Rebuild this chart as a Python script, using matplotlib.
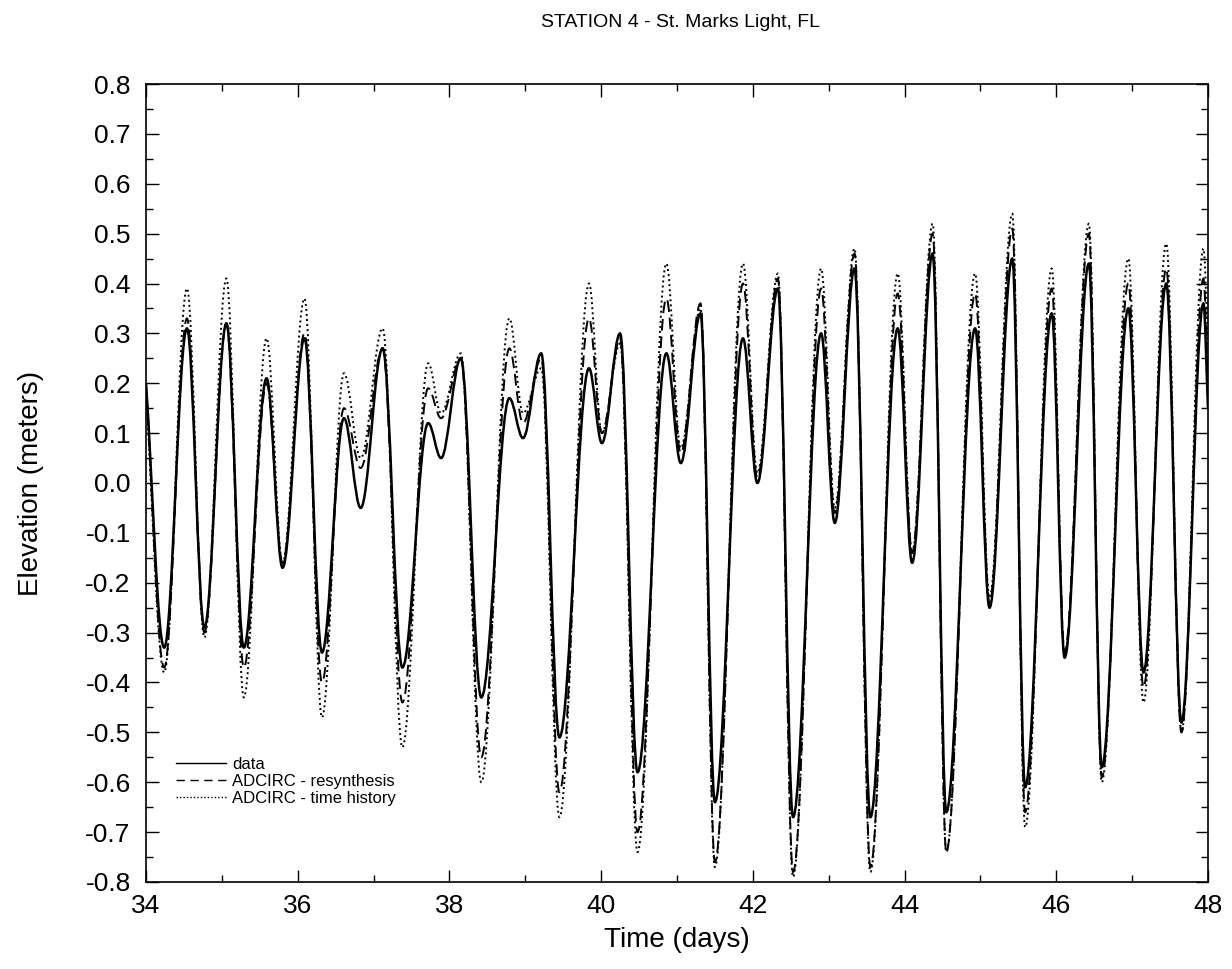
import matplotlib
matplotlib.use("Agg")
import matplotlib.pyplot as plt
from matplotlib.path import Path
from matplotlib.patches import PathPatch
from matplotlib.lines import Line2D
from matplotlib.ticker import MultipleLocator, FormatStrFormatter

plt.rcParams['font.family'] = ['Liberation Sans', 'DejaVu Sans']
plt.rcParams['axes.unicode_minus'] = False

# times of the turning points (days)
times = [34.00, 34.24, 34.54, 34.77, 35.06, 35.29, 35.59, 35.80, 36.09, 36.32,
         36.61, 36.83, 37.12, 37.38, 37.72, 37.89, 38.15, 38.42, 38.79, 38.97,
         39.21, 39.45, 39.84, 40.01, 40.25, 40.48, 40.86, 41.05, 41.31, 41.50,
         41.87, 42.06, 42.33, 42.53, 42.90, 43.08, 43.34, 43.55, 43.91, 44.10,
         44.37, 44.55, 44.93, 45.12, 45.42, 45.59, 45.94, 46.11, 46.43, 46.60,
         46.95, 47.15, 47.45, 47.65, 47.94, 48.00]

data = [0.20, -0.33, 0.31, -0.29, 0.32, -0.33, 0.21, -0.17, 0.29, -0.34,
        0.13, -0.05, 0.27, -0.37, 0.12, 0.05, 0.25, -0.43, 0.17, 0.09,
        0.26, -0.51, 0.23, 0.08, 0.30, -0.58, 0.26, 0.04, 0.34, -0.64,
        0.29, 0.00, 0.39, -0.67, 0.30, -0.08, 0.43, -0.67, 0.31, -0.16,
        0.46, -0.66, 0.31, -0.25, 0.45, -0.61, 0.34, -0.35, 0.44, -0.57,
        0.35, -0.38, 0.40, -0.48, 0.36, 0.15]

resynthesis = [0.20, -0.37, 0.33, -0.30, 0.32, -0.37, 0.20, -0.16, 0.30, -0.40,
               0.15, 0.03, 0.27, -0.44, 0.19, 0.13, 0.25, -0.55, 0.27, 0.12,
               0.25, -0.62, 0.33, 0.10, 0.29, -0.70, 0.37, 0.06, 0.36, -0.76,
               0.40, 0.01, 0.41, -0.78, 0.39, -0.06, 0.46, -0.77, 0.38, -0.14,
               0.50, -0.74, 0.38, -0.24, 0.51, -0.66, 0.39, -0.34, 0.50, -0.59,
               0.40, -0.41, 0.43, -0.50, 0.41, 0.20]

time_history = [0.18, -0.38, 0.39, -0.31, 0.41, -0.43, 0.29, -0.16, 0.37, -0.47,
                0.22, 0.05, 0.31, -0.53, 0.24, 0.14, 0.26, -0.60, 0.33, 0.14,
                0.23, -0.67, 0.40, 0.10, 0.28, -0.74, 0.44, 0.07, 0.35, -0.77,
                0.44, 0.02, 0.42, -0.79, 0.43, -0.05, 0.47, -0.78, 0.42, -0.14,
                0.52, -0.74, 0.42, -0.23, 0.54, -0.69, 0.43, -0.35, 0.52, -0.60,
                0.45, -0.44, 0.48, -0.50, 0.47, 0.28]

labels = ['data', 'ADCIRC - resynthesis', 'ADCIRC - time history']


def tide_path(t, v):
    # bezier through the turning points, flat at each peak/trough
    k = 0.3642
    n = len(t)
    verts = [(t[0], v[0])]
    codes = [Path.MOVETO]
    for i in range(n - 1):
        dt = t[i + 1] - t[i]
        s0 = (v[1] - v[0]) / dt if i == 0 else 0.0
        s1 = (v[-1] - v[-2]) / dt if i + 1 == n - 1 else 0.0
        verts += [(t[i] + k * dt, v[i] + s0 * k * dt),
                  (t[i + 1] - k * dt, v[i + 1] - s1 * k * dt),
                  (t[i + 1], v[i + 1])]
        codes += [Path.CURVE4] * 3
    return Path(verts, codes)


fig = plt.figure(figsize=(12.32, 9.69), dpi=100)
ax = fig.add_axes([0.1185, 0.0898, 0.862, 0.8235])

ax.add_patch(PathPatch(tide_path(times, time_history), fill=False, ec='black',
                       lw=1.4, ls=(0, (1, 1.6))))
ax.add_patch(PathPatch(tide_path(times, resynthesis), fill=False, ec='black',
                       lw=1.4, ls=(0, (6, 3))))
ax.add_patch(PathPatch(tide_path(times, data), fill=False, ec='black', lw=1.8))

ax.set_xlim(34, 48)
ax.set_ylim(-0.8, 0.8)
ax.xaxis.set_major_locator(MultipleLocator(2))
ax.xaxis.set_minor_locator(MultipleLocator(1))
ax.yaxis.set_major_locator(MultipleLocator(0.1))
ax.yaxis.set_minor_locator(MultipleLocator(0.05))
ax.yaxis.set_major_formatter(FormatStrFormatter('%.1f'))
ax.tick_params(which='both', direction='in', top=True, right=True, width=1.0)
ax.tick_params(which='major', length=9)
ax.tick_params(which='minor', length=5)
ax.tick_params(axis='x', which='major', labelsize=19, pad=9)
ax.tick_params(axis='y', which='major', labelsize=19, pad=11)
for sp in ax.spines.values():
    sp.set_linewidth(1.2)

ax.set_xlabel('Time (days)', fontsize=20, labelpad=6)
ax.set_ylabel('Elevation (meters)', fontsize=20, labelpad=30)
fig.text(0.552, 0.977, 'STATION 4 - St. Marks Light, FL', ha='center', va='center',
         fontsize=14)

handles = [Line2D([], [], color='black', lw=1.0),
           Line2D([], [], color='black', lw=1.0, ls=(0, (6, 4))),
           Line2D([], [], color='black', lw=1.0, ls=(0, (1, 1.5)))]
ax.legend(handles, labels, loc='lower left', bbox_to_anchor=(0.028, 0.095),
          frameon=False, fontsize=12, handlelength=3.0, handletextpad=0.4,
          labelspacing=0.12, borderpad=0, borderaxespad=0)

fig.savefig('out.png', dpi=100)
